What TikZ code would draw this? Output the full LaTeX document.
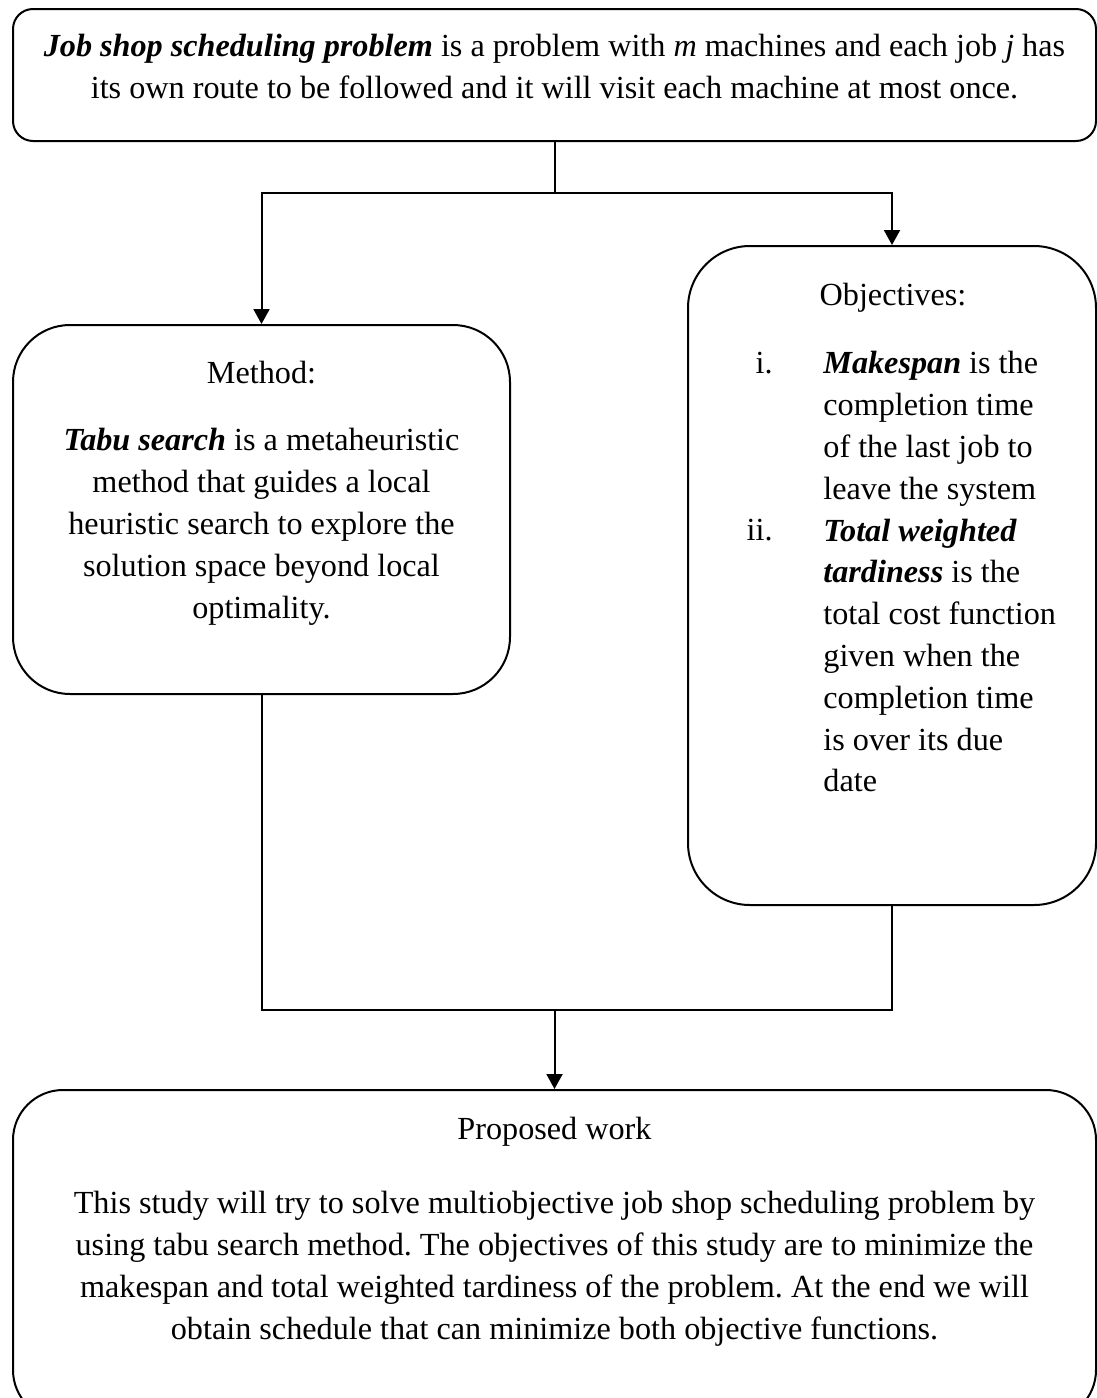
\documentclass[tikz,border=0pt]{standalone}
\usepackage{fontspec}
\setmainfont{Liberation Serif}
\usetikzlibrary{arrows.meta}
\frenchspacing
\tikzset{
  box/.style={draw, line width=1pt, rectangle, inner sep=0pt},
  conn/.style={line width=1pt},
  arr/.style={line width=1pt, -{Triangle[length=7.5pt,width=8pt]}},
  txt/.style={inner sep=0pt, align=center, font=\fontsize{16.1}{20.9}\selectfont},
  ltxt/.style={inner sep=0pt, align=left, font=\fontsize{16.1}{20.9}\selectfont},
}
\newcommand{\fst}{\rule{0pt}{11.2pt}}
\begin{document}
\begin{tikzpicture}[x=0.5pt, y=-0.5pt]
\clip (0,0) rectangle (1097,1398);
% boxes
\node[box, rounded corners=10pt, minimum width=541.5pt, minimum height=66pt] (top) at (554.5,75) {};
\node[box, rounded corners=28.5pt, minimum width=248.5pt, minimum height=184.5pt] (method) at (261.5,509.5) {};
\node[box, rounded corners=31pt, minimum width=204pt, minimum height=329.5pt] (obj) at (892,575.5) {};
\node[box, rounded corners=25pt, minimum width=541.5pt, minimum height=165pt] (prop) at (554.5,1255) {};
% texts
\node[txt, anchor=north] (toptxt) at (554.5,34) {\fst\textbf{\textit{Job shop scheduling problem}} is a problem with \textit{m} machines and each job \textit{j} has\\its own route to be followed and it will visit each machine at most once.};
\node[txt, anchor=base] (mhead) at (261.5,383) {Method:};
\node[txt, anchor=north] (mbody) at (261.5,428) {\fst\textbf{\textit{Tabu search}} is a metaheuristic\\method that guides a local\\heuristic search to explore the\\solution space beyond local\\optimality.};
\node[txt, anchor=base] (ohead) at (893,305) {Objectives:};
\node[txt, anchor=base east] (li) at (773,373) {i.};
\node[txt, anchor=base east] (lii) at (773,540) {ii.};
\node[ltxt, anchor=north west] (obody) at (823,351) {\fst\textbf{\textit{Makespan}} is the\\completion time\\of the last job to\\leave the system\\\textbf{\textit{Total weighted}}\\\textbf{\textit{tardiness}} is the\\total cost function\\given when the\\completion time\\is over its due\\date};
\node[txt, anchor=base] (phead) at (554.5,1139) {Proposed work};
\node[txt, anchor=north] (pbody) at (554.5,1191) {\fst This study will try to solve multiobjective job shop scheduling problem by\\using tabu search method. The objectives of this study are to minimize the\\makespan and total weighted tardiness of the problem. At the end we will\\obtain schedule that can minimize both objective functions.};
% connectors
\coordinate (split) at (top.south |- 0,193);
\coordinate (merge) at (prop.north |- 0,1010);
\draw[conn] (top.south) -- (split);
\draw[arr] (split) -| (method.north);
\draw[arr] (split) -| (obj.north);
\draw[conn] (method.south) |- (merge);
\draw[conn] (obj.south) |- (merge);
\draw[arr] (merge) -- (prop.north);
\end{tikzpicture}
\end{document}
